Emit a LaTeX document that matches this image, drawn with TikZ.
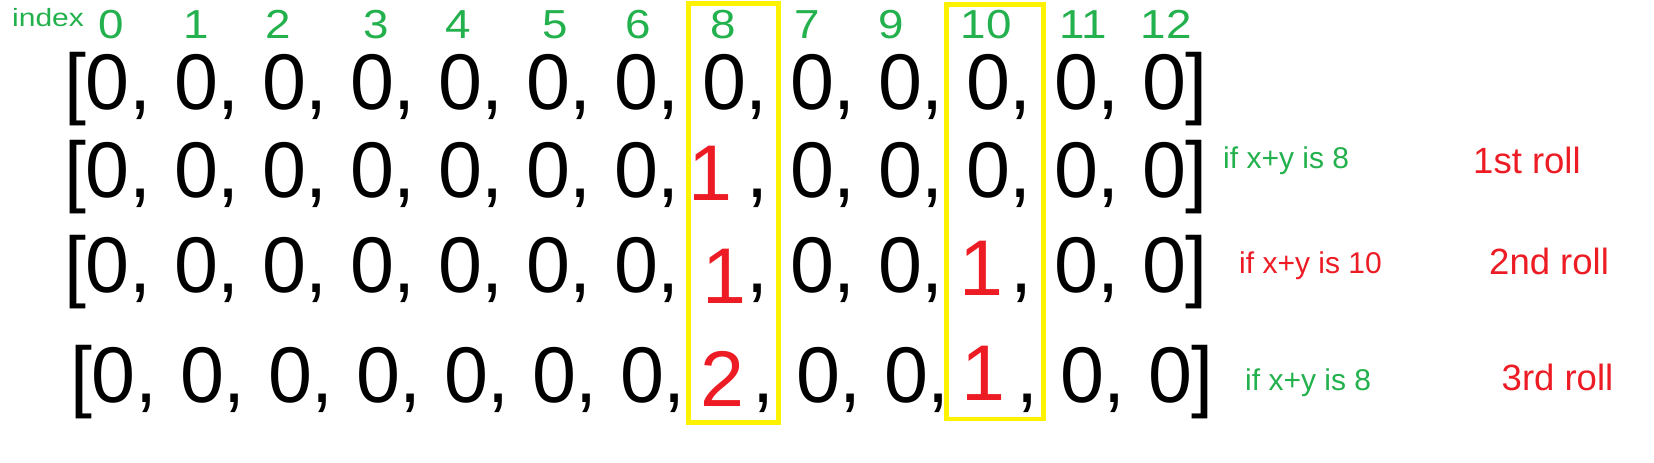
\documentclass[tikz,border=0pt]{standalone}
\usepackage{fontspec}
\setmainfont{Liberation Sans}
\usepackage{graphicx}
\definecolor{pgreen}{HTML}{22B14C}
\definecolor{pred}{HTML}{ED1C24}
\definecolor{pyellow}{HTML}{FFF200}
\tikzset{
  big/.style={font=\fontsize{79}{79}\selectfont, inner sep=0pt, outer sep=0pt, anchor=base},
  cell/.style={big, anchor=base west},
  redbig/.style={big, text=pred},
  idx/.style={font=\fontsize{40.5}{40.5}\selectfont, text=pgreen, inner sep=0pt, anchor=base},
  idxword/.style={font=\fontsize{25}{25}\selectfont, text=pgreen, inner sep=0pt, anchor=base west},
  note/.style={font=\fontsize{30}{30}\selectfont, inner sep=0pt, anchor=base west},
  roll/.style={font=\fontsize{36.5}{36.5}\selectfont, text=pred, inner sep=0pt, anchor=base west},
  ybox/.style={draw=pyellow, line width=4.5pt},
}
\newcommand\hwide[1]{\scalebox{1.13}[1]{#1}}
\begin{document}
\begin{tikzpicture}[x=1pt,y=-1pt]
\useasboundingbox (0,0) rectangle (1654,463);
\fill[white] (0,0) rectangle (1654,463);
% yellow highlight boxes
\draw[ybox] (688.7,3.5) rectangle (778.7,422.5);
\draw[ybox] (946.3,4.5) rectangle (1043.4,419);
% index row
\node[idxword] (index) at (12,27) {\scalebox{1.2}[1]{index}};
\foreach \lab/\x in {0/111,1/196,2/278.6,3/376,4/458.4,5/555,6/638,8/723,7/807,9/891,10/986.4,11/1083.2,12/1166.2}
  \node[idx] (ix\lab) at (\x,38) {\hwide{\lab}};
% first and last cells of every row
\foreach \r/\b/\o in {1/109/0, 2/197/0, 3/292/0, 4/402/6} {
  \node[cell] (first\r) at (64+\o,\b) {[0,};
  \node[cell] (last\r) at (1142+\o,\b) {0]};
}
% black cells "0,"
\foreach \i in {1,...,11}
  \node[cell] (c1-\i) at ({86+88*\i},109) {0,};
\foreach \i in {1,2,3,4,5,6,8,9,10,11}
  \node[cell] (c2-\i) at ({86+88*\i},197) {0,};
\foreach \i in {1,2,3,4,5,6,8,9,11}
  \node[cell] (c3-\i) at ({86+88*\i},292) {0,};
\foreach \i in {1,2,3,4,5,6,8,9,11}
  \node[cell] (c4-\i) at ({92+88*\i},402) {0,};
% red counts with their commas
\node[redbig] (r2a) at (710.4,200) {1};
\node[big] (k2a) at (757,197) {,};
\node[redbig] (r3a) at (724.4,303) {1};
\node[big] (k3a) at (757,292) {,};
\node[redbig] (r3b) at (981.4,295) {1};
\node[big] (k3b) at (1021,292) {,};
\node[redbig] (r4a) at (722.7,406) {2};
\node[big] (k4a) at (763,402) {,};
\node[redbig] (r4b) at (983.4,400) {1};
\node[big] (k4b) at (1027,402) {,};
% notes
\node[note, text=pgreen] (n2) at (1223,168) {if x+y is 8};
\node[note, text=pred] (n3) at (1239,273) {if x+y is 10};
\node[note, text=pgreen] (n4) at (1245,390) {if x+y is 8};
\node[roll] (roll1) at (1473,173) {1st roll};
\node[roll] (roll2) at (1489,274) {2nd roll};
\node[roll] (roll3) at (1501.5,390) {3rd roll};
\end{tikzpicture}
\end{document}
